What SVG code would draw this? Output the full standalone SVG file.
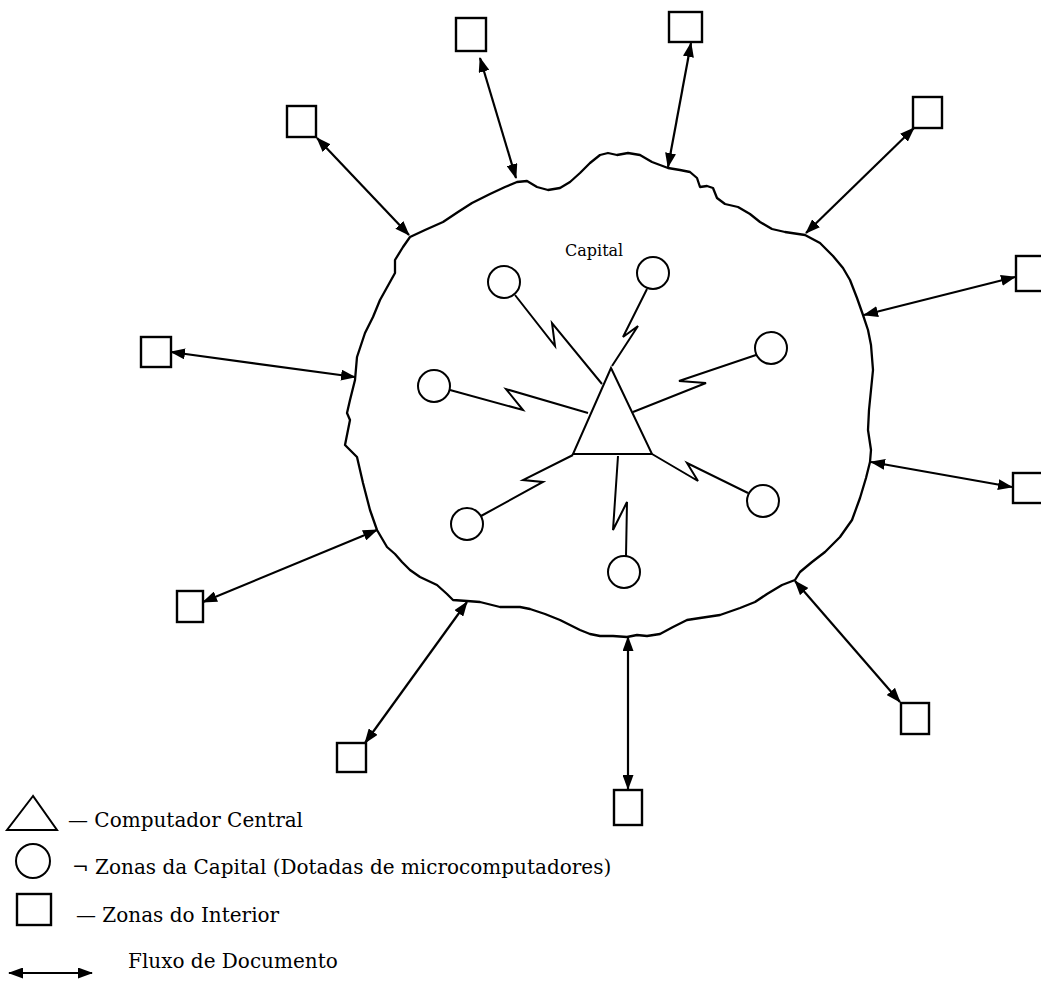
<svg xmlns="http://www.w3.org/2000/svg" width="1041" height="986" viewBox="0 0 1041 986">
<style>
.sq{fill:#fff;stroke:#000;stroke-width:2.4}
.ci{fill:#fff;stroke:#000;stroke-width:2}
.ln{fill:none;stroke:#000;stroke-width:2;stroke-linejoin:miter}
.ar{fill:none;stroke:#000;stroke-width:2.2;marker-start:url(#ah);marker-end:url(#ah)}
.blob{fill:none;stroke:#000;stroke-width:2.3;stroke-linejoin:round}
.t{font-family:"DejaVu Serif","Liberation Serif",serif;fill:#000}
</style>
<defs>
<marker id="ah" markerUnits="userSpaceOnUse" markerWidth="15" markerHeight="11" refX="14" refY="5.5" orient="auto-start-reverse">
<path d="M0,0 L15,5.5 L0,11 z" fill="#000"/>
</marker>
</defs>
<rect width="1041" height="986" fill="#fff"/>
<g id="capital">
<path class="blob" d="M410,237 L425,230 L443,222 L458,212 L472,203 L490,194 L505,187 L517,182 L527,181 L537,187 L548,190 L560,188 L570,182 L580,173 L590,163 L600,155 L608,153 L617,155 L628,153 L640,155 L652,162 L668,168 L680,170 L690,172 L697,178 L700,187 L707,186 L713,188 L717,198 L725,204 L738,207 L750,214 L760,222 L772,229 L785,232 L805,235 L820,243 L833,256 L843,268 L850,280 L857,298 L863,315 L868,330 L871,345 L873,370 L871,390 L869,410 L868,430 L871,450 L870,462 L866,478 L860,498 L852,520 L840,537 L825,552 L812,562 L800,572 L795,580 L782,585 L767,594 L755,602 L740,608 L720,615 L700,618 L687,620 L673,627 L660,634 L647,636 L637,635 L627,637 L613,636 L600,636 L590,634 L580,630 L570,625 L560,620 L545,614 L530,609 L520,607 L500,607 L480,602 L467,601 L453,600 L447,594 L437,585 L420,577 L410,570 L402,562 L395,554 L387,547 L377,530 L370,510 L363,483 L357,457 L345,445 L350,420 L347,413 L350,400 L355,380 L357,357 L365,333 L373,317 L380,300 L395,273 L395,260 L403,247 Z"/>
<text class="t" x="565" y="256" font-size="16">Capital</text>
</g>
<g id="computador-central">
<polygon class="ln" points="611,368 573,454 652,454" fill="#fff"/>
</g>
<g id="zona-capital-1"><circle class="ci" cx="504" cy="282" r="16"/></g>
<g id="zona-capital-2"><circle class="ci" cx="653" cy="273" r="16"/></g>
<g id="zona-capital-3"><circle class="ci" cx="771" cy="348" r="16"/></g>
<g id="zona-capital-4"><circle class="ci" cx="434" cy="386" r="16"/></g>
<g id="zona-capital-5"><circle class="ci" cx="467" cy="524" r="16"/></g>
<g id="zona-capital-6"><circle class="ci" cx="763" cy="501" r="16"/></g>
<g id="zona-capital-7"><circle class="ci" cx="624" cy="572" r="16"/></g>
<g id="zona-interior-1"><rect class="sq" x="456" y="18" width="30" height="33"/></g>
<g id="zona-interior-2"><rect class="sq" x="669" y="12" width="33" height="30"/></g>
<g id="zona-interior-3"><rect class="sq" x="287" y="106" width="29" height="31"/></g>
<g id="zona-interior-4"><rect class="sq" x="913" y="97" width="29" height="31"/></g>
<g id="zona-interior-5"><rect class="sq" x="1016" y="256" width="27" height="35"/></g>
<g id="zona-interior-6"><rect class="sq" x="141" y="337" width="30" height="30"/></g>
<g id="zona-interior-7"><rect class="sq" x="1013" y="473" width="30" height="30"/></g>
<g id="zona-interior-8"><rect class="sq" x="177" y="591" width="26" height="31"/></g>
<g id="zona-interior-9"><rect class="sq" x="337" y="743" width="29" height="29"/></g>
<g id="zona-interior-10"><rect class="sq" x="614" y="790" width="28" height="35"/></g>
<g id="zona-interior-11"><rect class="sq" x="901" y="703" width="28" height="31"/></g>
<g id="connectors">
<line class="ar" x1="480" y1="58" x2="516" y2="178"/>
<line class="ar" x1="691" y1="43" x2="668" y2="167"/>
<line class="ar" x1="317" y1="138" x2="409" y2="235"/>
<line class="ar" x1="914" y1="128" x2="806" y2="233"/>
<line class="ar" x1="1015" y1="277" x2="864" y2="315"/>
<line class="ar" x1="171" y1="352" x2="355" y2="377"/>
<line class="ar" x1="871" y1="462" x2="1012" y2="487"/>
<line class="ar" x1="203" y1="602" x2="377" y2="530"/>
<line class="ar" x1="365" y1="743" x2="467" y2="602"/>
<line class="ar" x1="628" y1="637" x2="628" y2="789"/>
<line class="ar" x1="795" y1="581" x2="900" y2="702"/>
<polyline class="ln" points="515,295 555,346 552,323 602,384"/>
<polyline class="ln" points="647,289 623,337 638,326 612,366"/>
<polyline class="ln" points="756,355 679,381 706,383 633,412"/>
<polyline class="ln" points="450,390 523,410 506,389 588,413"/>
<polyline class="ln" points="481,516 543,482 523,480 573,455"/>
<polyline class="ln" points="748,493 687,463 698,481 652,454"/>
<polyline class="ln" points="626,556 627,502 613,530 618,456"/>
</g>
<g id="legend">
<polygon class="ln" points="33,796 7,830 57,830" stroke-linejoin="round" stroke-width="2.4"/>
<text class="t" x="68" y="827" font-size="20">— Computador Central</text>
<circle class="ci" cx="33" cy="861" r="17" stroke-width="2.4"/>
<text class="t" x="72" y="874" font-size="20">¬ Zonas da Capital (Dotadas de microcomputadores)</text>
<rect class="sq" x="17" y="894" width="34" height="31"/>
<text class="t" x="76" y="922" font-size="20">— Zonas do Interior</text>
<line class="ar" x1="9" y1="973" x2="92" y2="973"/>
<text class="t" x="128" y="968" font-size="20">Fluxo de Documento</text>
</g>
</svg>
